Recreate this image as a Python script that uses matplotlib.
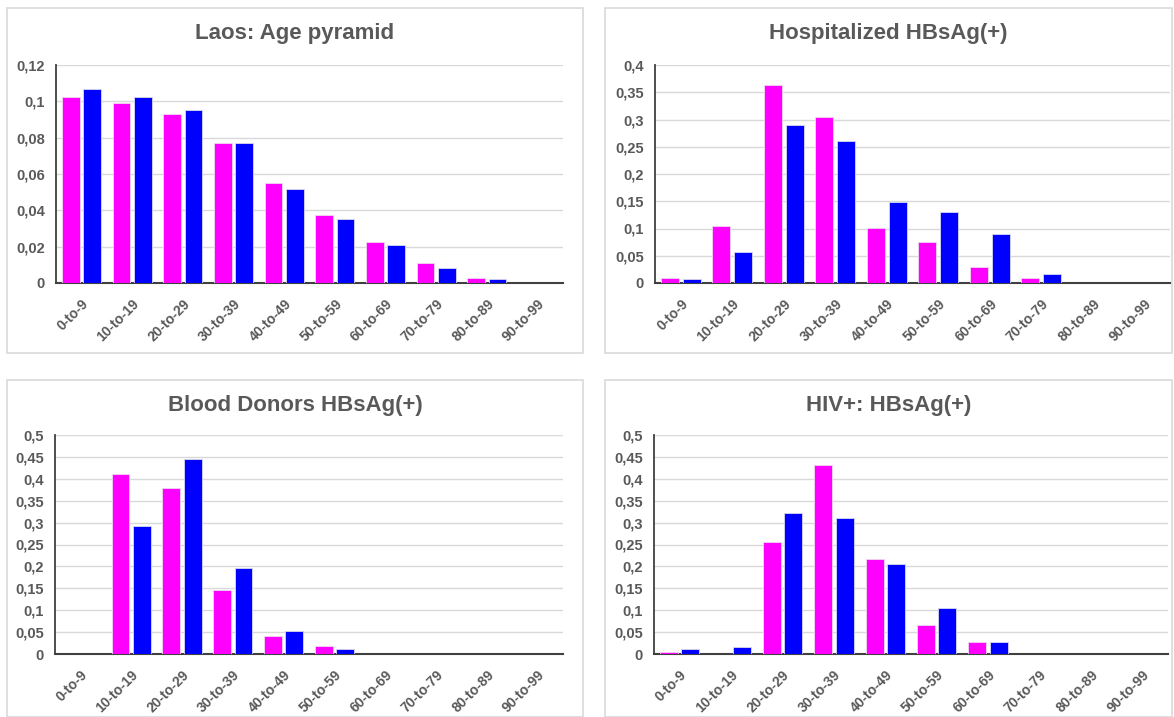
import matplotlib
matplotlib.use("Agg")
import matplotlib.pyplot as plt
from matplotlib.patches import Rectangle
from matplotlib.ticker import FuncFormatter
import numpy as np

plt.rcParams['font.family'] = ['Liberation Sans', 'DejaVu Sans']

categories = ["0-to-9", "10-to-19", "20-to-29", "30-to-39", "40-to-49",
              "50-to-59", "60-to-69", "70-to-79", "80-to-89", "90-to-99"]

laos_pink = [0.1025, 0.099, 0.093, 0.077, 0.055, 0.0375, 0.0225, 0.011, 0.003, 0.0]
laos_blue = [0.107, 0.1025, 0.0955, 0.077, 0.0515, 0.035, 0.021, 0.0085, 0.0022, 0.0]

hosp_pink = [0.010, 0.105, 0.363, 0.304, 0.101, 0.075, 0.030, 0.010, 0.0, 0.0]
hosp_blue = [0.007, 0.057, 0.290, 0.260, 0.148, 0.131, 0.090, 0.016, 0.0, 0.0]

blood_pink = [0.0, 0.410, 0.380, 0.145, 0.041, 0.019, 0.0, 0.0, 0.0, 0.0]
blood_blue = [0.0, 0.292, 0.446, 0.196, 0.052, 0.012, 0.0, 0.0, 0.0, 0.0]

hiv_pink = [0.005, 0.0, 0.255, 0.431, 0.217, 0.067, 0.027, 0.0, 0.0, 0.0]
hiv_blue = [0.012, 0.016, 0.321, 0.310, 0.206, 0.104, 0.027, 0.0, 0.0, 0.0]

titles = ["Laos: Age pyramid", "Hospitalized HBsAg(+)",
          "Blood Donors HBsAg(+)", "HIV+: HBsAg(+)"]
yticks_list = [
    [0, 0.02, 0.04, 0.06, 0.08, 0.1, 0.12],
    [0, 0.05, 0.1, 0.15, 0.2, 0.25, 0.3, 0.35, 0.4],
    [0, 0.05, 0.1, 0.15, 0.2, 0.25, 0.3, 0.35, 0.4, 0.45, 0.5],
    [0, 0.05, 0.1, 0.15, 0.2, 0.25, 0.3, 0.35, 0.4, 0.45, 0.5],
]
series = [(laos_pink, laos_blue), (hosp_pink, hosp_blue),
          (blood_pink, blood_blue), (hiv_pink, hiv_blue)]

W, H = 1174, 717
fig = plt.figure(figsize=(W / 100, H / 100), dpi=100)
fig.patch.set_facecolor("white")

# panel boxes (x0, y0, x1, y1) in pixels from top-left
boxes = [(7, 8, 583, 353), (605, 8, 1172, 353), (7, 380, 583, 717), (605, 380, 1172, 717)]
# axes rect (left, top, right, bottom) in pixels
axrects = [(56, 65, 563, 283), (655, 65, 1170, 283), (55, 435, 563, 654), (654, 435, 1168, 654)]
title_y = [34, 34, 405, 405]

PINK = "#FF00FF"
BLUE = "#0000FF"
GRAY = "#595959"

def fmt(v, pos):
    return ("%g" % v).replace(".", ",")

for i in range(4):
    bx0, by0, bx1, by1 = boxes[i]
    fig.patches.append(Rectangle((bx0 / W, 1 - by1 / H), (bx1 - bx0) / W, (by1 - by0) / H,
                                 transform=fig.transFigure, fill=False,
                                 edgecolor="#D9D9D9", linewidth=1.2))
    l, t, r, b = axrects[i]
    ax = fig.add_axes([l / W, 1 - b / H, (r - l) / W, (b - t) / H])
    x = np.arange(len(categories))
    pink, blue = series[i]
    bw = 0.35
    ax.bar(x - 0.21, pink, width=bw, color=PINK, edgecolor="#F0D8F0", linewidth=0.6, zorder=3)
    ax.bar(x + 0.21, blue, width=bw, color=BLUE, edgecolor="#D8D8F0", linewidth=0.6, zorder=3)
    yt = yticks_list[i]
    ax.set_ylim(0, yt[-1])
    ax.set_xlim(-0.5, len(categories) - 0.5)
    ax.set_yticks(yt)
    ax.yaxis.set_major_formatter(FuncFormatter(fmt))
    ax.grid(axis="y", color="#D9D9D9", linewidth=1.0, zorder=0)
    ax.set_xticks(x)
    ax.set_xticklabels(categories, rotation=45, ha="right", rotation_mode="anchor",
                       fontsize=10, fontweight="bold", color=GRAY)
    for lab in ax.get_yticklabels():
        lab.set_fontsize(10.5)
        lab.set_fontweight("bold")
        lab.set_color(GRAY)
    ax.tick_params(axis="y", length=0, pad=8)
    ax.tick_params(axis="x", length=0, pad=10)
    for s in ["top", "right"]:
        ax.spines[s].set_visible(False)
    ax.spines["left"].set_color("#404040")
    ax.spines["bottom"].set_color("#404040")
    ax.spines["left"].set_linewidth(1.3)
    ax.spines["bottom"].set_linewidth(1.5)
    ax.set_facecolor("white")
    cx = (bx0 + bx1) / 2
    fig.text(cx / W, 1 - title_y[i] / H, titles[i], ha="center", va="center",
             fontsize=16, fontweight="bold", color=GRAY)

fig.savefig("out.png", dpi=100, facecolor="white")
